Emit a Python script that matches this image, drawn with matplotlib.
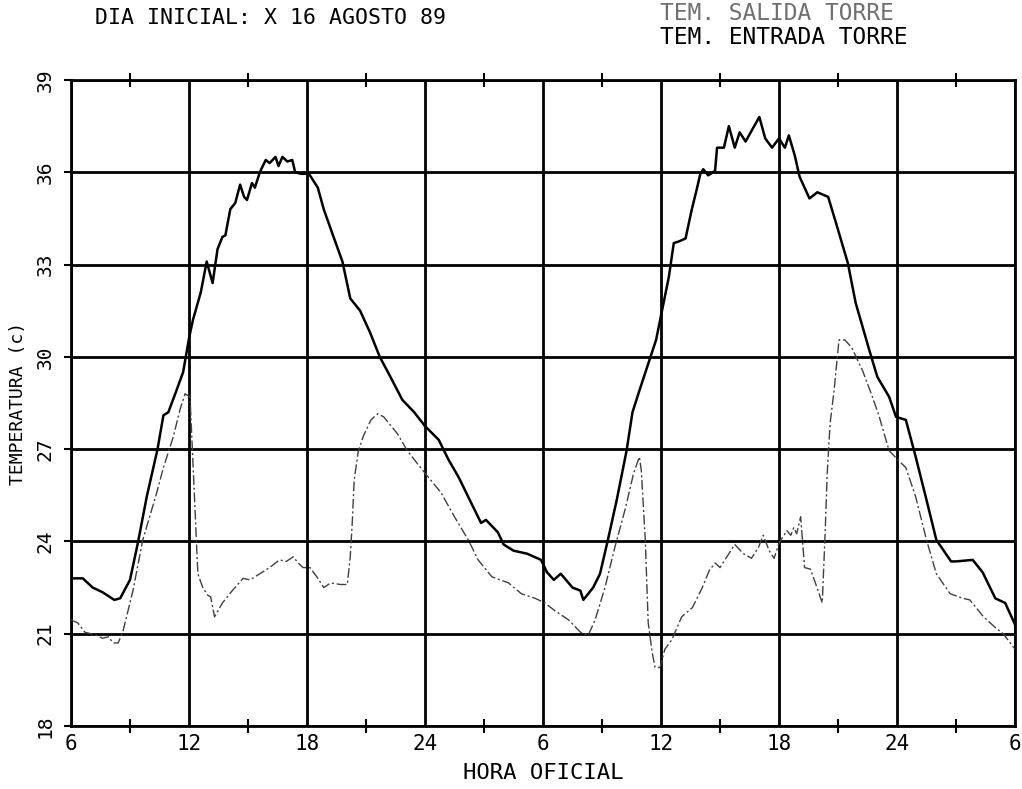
import matplotlib
matplotlib.use("Agg")
import matplotlib.pyplot as plt
from matplotlib.ticker import FixedLocator, MultipleLocator

# ---------------- data (hours since 0h of first day, temperature in C) -------------
entrada_h = [6.0, 6.6, 7.1, 7.6, 8.2, 8.5, 9.0, 9.4, 9.85, 10.4, 10.7, 10.95, 11.3, 11.7,
             12.0, 12.2, 12.6, 12.9, 13.2, 13.45, 13.7, 13.85, 14.1, 14.35, 14.6, 14.8,
             14.95, 15.2, 15.35, 15.6, 15.9, 16.1, 16.4, 16.55, 16.75, 17.0, 17.25, 17.4,
             17.7, 18.1, 18.55, 18.85, 19.35, 19.8, 20.2, 20.7, 21.2, 21.7, 22.2, 22.85,
             23.45, 24.0, 24.7, 25.2, 25.7, 26.35, 26.85, 27.1, 27.7, 28.0, 28.5, 29.2,
             29.9, 30.2, 30.55, 30.9, 31.5, 31.9, 32.05, 32.3, 32.55, 32.9, 33.3, 33.75,
             34.25, 34.55, 34.9, 35.75, 36.05, 36.4, 36.65, 36.9, 37.25, 37.55, 37.8,
             38.0, 38.15, 38.4, 38.75, 38.85, 39.2, 39.45, 39.75, 40.0, 40.3, 41.0, 41.3,
             41.65, 42.0, 42.3, 42.5, 42.8, 43.05, 43.55, 43.95, 44.5, 44.9, 45.5, 45.9,
             46.6, 47.0, 47.6, 47.95, 48.45, 48.95, 49.5, 50.0, 50.75, 51.0, 51.85, 52.35,
             53.0, 53.5, 54.0]
entrada_t = [22.8, 22.8, 22.5, 22.35, 22.1, 22.15, 22.75, 23.95, 25.45, 27.0, 28.1, 28.2,
             28.8, 29.5, 30.6, 31.2, 32.1, 33.1, 32.4, 33.5, 33.9, 33.95, 34.8, 35.0, 35.6,
             35.2, 35.1, 35.65, 35.5, 36.0, 36.4, 36.3, 36.5, 36.2, 36.5, 36.35, 36.4, 36.0,
             35.95, 35.95, 35.5, 34.8, 33.9, 33.1, 31.9, 31.5, 30.8, 30.0, 29.4, 28.6, 28.2,
             27.75, 27.3, 26.65, 26.1, 25.25, 24.6, 24.7, 24.3, 23.9, 23.7, 23.6, 23.4, 23.0,
             22.75, 22.95, 22.5, 22.4, 22.1, 22.3, 22.5, 22.95, 24.05, 25.35, 26.95, 28.2,
             28.9, 30.55, 31.5, 32.6, 33.7, 33.75, 33.85, 34.75, 35.4, 35.95, 36.1, 35.9,
             36.05, 36.8, 36.8, 37.5, 36.8, 37.3, 37.0, 37.8, 37.1, 36.8, 37.1, 36.8, 37.2,
             36.55, 35.85, 35.15, 35.35, 35.2, 34.35, 33.05, 31.75, 30.2, 29.35, 28.7, 28.05,
             27.95, 26.75, 25.35, 24.05, 23.35, 23.35, 23.4, 23.0, 22.15, 22.0, 21.3]

salida_h = [6.0, 6.35, 6.7, 7.3, 7.6, 7.9, 8.15, 8.4, 8.65, 9.15, 9.65, 10.3, 10.7, 11.2,
            11.55, 11.8, 12.05, 12.15, 12.3, 12.45, 12.7, 12.95, 13.1, 13.3, 13.7, 14.2,
            14.75, 15.1, 15.6, 16.1, 16.6, 16.95, 17.3, 17.55, 17.8, 18.15, 18.5, 18.85,
            19.2, 19.7, 20.05, 20.2, 20.3, 20.4, 20.6, 20.85, 21.25, 21.6, 21.9, 22.6, 23.1,
            23.65, 24.15, 24.8, 25.5, 26.2, 26.7, 27.4, 28.25, 28.9, 29.6, 30.1, 30.6, 31.3,
            31.9, 32.3, 32.65, 33.15, 33.65, 34.2, 34.6, 34.9, 35.0, 35.2, 35.35, 35.55,
            35.7, 35.95, 36.2, 36.55, 37.05, 37.6, 38.1, 38.45, 38.75, 39.0, 39.35, 39.75,
            40.2, 40.6, 40.95, 41.2, 41.5, 41.75, 42.0, 42.25, 42.4, 42.6, 42.75, 42.9, 43.1,
            43.3, 43.6, 43.85, 44.2, 44.35, 44.45, 44.6, 44.8, 45.05, 45.35, 45.7, 46.25,
            46.75, 47.1, 47.6, 48.05, 48.45, 48.95, 49.5, 50.0, 50.7, 51.35, 51.7, 52.4,
            53.0, 53.4, 54.0]
salida_t = [21.45, 21.35, 21.05, 20.95, 20.85, 20.9, 20.7, 20.7, 21.1, 22.4, 24.05, 25.45,
            26.4, 27.4, 28.3, 28.8, 28.7, 27.3, 25.1, 22.95, 22.5, 22.25, 22.2, 21.55, 22.0,
            22.4, 22.8, 22.75, 22.95, 23.15, 23.4, 23.35, 23.5, 23.3, 23.15, 23.15, 22.85,
            22.5, 22.65, 22.6, 22.6, 23.5, 24.6, 26.0, 26.9, 27.4, 27.95, 28.15, 28.05, 27.5,
            26.95, 26.5, 26.1, 25.6, 24.8, 24.05, 23.4, 22.85, 22.65, 22.3, 22.15, 22.0,
            21.75, 21.45, 21.05, 20.95, 21.45, 22.5, 23.8, 25.1, 26.2, 26.75, 26.3, 24.05,
            21.35, 20.4, 19.9, 19.9, 20.5, 20.8, 21.55, 21.85, 22.5, 23.05, 23.3, 23.15,
            23.5, 23.9, 23.6, 23.45, 23.8, 24.2, 23.7, 23.45, 23.95, 24.2, 24.35, 24.2,
            24.45, 24.25, 24.8, 23.15, 23.1, 22.65, 22.0, 24.35, 26.2, 27.85, 28.9, 30.55,
            30.55, 30.3, 29.55, 28.7, 28.05, 26.95, 26.65, 26.4, 25.45, 24.05, 22.95, 22.3,
            22.15, 22.1, 21.55, 21.2, 21.0, 20.5]

x_ticks = [6, 12, 18, 24, 30, 36, 42, 48, 54]
x_tick_labels = ["6", "12", "18", "24", "6", "12", "18", "24", "6"]
y_ticks = [18, 21, 24, 27, 30, 33, 36, 39]
y_tick_labels = ["18", "21", "24", "27", "30", "33", "36", "39"]

title_text = "DIA INICIAL: X 16 AGOSTO 89"
legend_salida = "TEM. SALIDA TORRE"
legend_entrada = "TEM. ENTRADA TORRE"
x_label = "HORA OFICIAL"
y_label = "TEMPERATURA (c)"

# ---------------- figure ---------------------------------------------------------
W, H = 1022, 789
fig = plt.figure(figsize=(W / 100, H / 100), dpi=100)
fig.patch.set_facecolor("white")
ax = fig.add_axes([71 / W, 63 / H, (1015 - 71) / W, (726 - 80) / H])

font = "DejaVu Sans Mono"

ax.plot(salida_h, salida_t, color="#404040", lw=1.0, ls=(0, (7, 2, 1.5, 2)), zorder=3)
ax.plot(entrada_h, entrada_t, color="black", lw=1.8, zorder=4)

ax.set_xlim(6, 54)
ax.set_ylim(18, 39)
ax.xaxis.set_major_locator(FixedLocator(x_ticks))
ax.xaxis.set_minor_locator(MultipleLocator(3))
ax.yaxis.set_major_locator(FixedLocator(y_ticks))
ax.set_xticklabels(x_tick_labels, fontsize=15, family=font)
ax.set_yticklabels(y_tick_labels, fontsize=14, family=font, rotation=90, va="center")

ax.grid(True, which="major", color="black", lw=2.0)
for s in ax.spines.values():
    s.set_linewidth(2.0)
ax.tick_params(axis="x", which="major", length=0, pad=6)
ax.tick_params(axis="x", which="minor", direction="inout", length=10, width=1.5,
               top=True, bottom=True)
ax.tick_params(axis="y", which="major", direction="out", length=5, width=1.5, pad=7)

ax.set_xlabel(x_label, fontsize=16, family=font, labelpad=6)
ax.set_ylabel(y_label, fontsize=13, family=font, labelpad=6)

fig.text(95 / W, 1 - 18 / H, title_text, fontsize=15.5, family=font, va="center", ha="left")
fig.text(660 / W, 1 - 14 / H, legend_salida, fontsize=16.5, family=font, va="center",
         ha="left", color="#707070")
fig.text(660 / W, 1 - 38 / H, legend_entrada, fontsize=16.5, family=font, va="center",
         ha="left", color="black")

fig.savefig("out.png", dpi=100, facecolor="white")
